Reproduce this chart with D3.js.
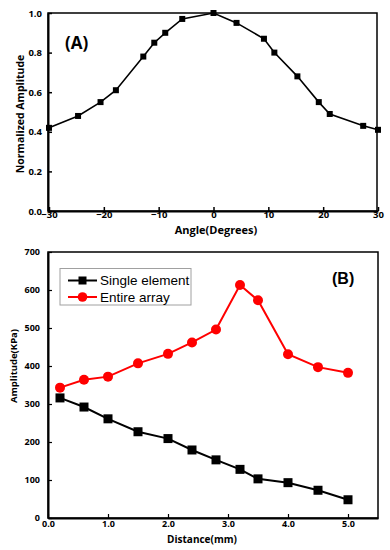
<!DOCTYPE html>
<html><head><meta charset="utf-8">
<script src="https://cdn.jsdelivr.net/npm/d3@7"></script>
<style>body{margin:0;background:#fff}svg{display:block}</style>
</head><body>
<svg id="c" width="390" height="550"></svg>
<script>
// Panel A data
const angles = [-30, -24.7, -20.6, -17.8, -12.8, -10.8, -8.8, -5.7, 0, 4.2, 9.2, 11.1, 15.3, 19.2, 21.2, 27.3, 30];
const normAmp = [0.42, 0.48, 0.55, 0.61, 0.78, 0.85, 0.90, 0.97, 1.0, 0.95, 0.87, 0.80, 0.68, 0.55, 0.49, 0.43, 0.41];
const angleTicks = [-30, -20, -10, 0, 10, 20, 30];
const normTicks = [0.0, 0.2, 0.4, 0.6, 0.8, 1.0];
// Panel B data
const distance = [0.2, 0.6, 1.0, 1.5, 2.0, 2.4, 2.8, 3.2, 3.5, 4.0, 4.5, 5.0];
const singleElement = [316, 292, 261, 227, 209, 179, 153, 128, 103, 93, 73, 48];
const entireArray = [343, 364, 372, 407, 432, 462, 496, 613, 573, 431, 397, 382];
const distTicks = [0.0, 1.0, 2.0, 3.0, 4.0, 5.0];
const ampTicks = [0, 100, 200, 300, 400, 500, 600, 700];
const seriesNames = ["Single element", "Entire array"];

const svg = d3.select("#c");
const axFont = "'Open Sans', 'DejaVu Sans', sans-serif";

// ---------- Panel A ----------
const A = {l: 48, r: 377, t: 13, b: 211};
const xA = d3.scaleLinear().domain([-30, 30]).range([A.l + 1, A.r + 1]);
const yA = d3.scaleLinear().domain([0, 1]).range([A.b, A.t]);
const gA = svg.append("g");
gA.append("rect").attr("x", A.l).attr("y", A.t).attr("width", A.r - A.l).attr("height", A.b - A.t)
  .attr("fill", "none").attr("stroke", "#000").attr("stroke-width", 1.5);
const axA = gA.append("g").attr("transform", `translate(0,${A.b})`)
  .call(d3.axisBottom(xA).tickValues(angleTicks).tickSizeInner(-4).tickSizeOuter(0).tickPadding(1).tickFormat(d3.format("d")));
const ayA = gA.append("g").attr("transform", `translate(${A.l},0)`)
  .call(d3.axisLeft(yA).tickValues(normTicks).tickSizeInner(-4).tickSizeOuter(0).tickPadding(6).tickFormat(d3.format(".1f")));
[axA, ayA].forEach(a => {
  a.select(".domain").attr("stroke-width", 2);
  a.selectAll(".tick line").attr("stroke-width", 1.5);
  a.selectAll("text").attr("font-family", axFont).attr("font-weight", "bold").attr("font-size", 9.5).attr("fill", "#000");
});
axA.selectAll(".tick text").attr("dy", "0.65em");
const lineA = d3.line().x((d, i) => xA(angles[i])).y(d => yA(d));
gA.append("path").datum(normAmp).attr("d", lineA).attr("fill", "none").attr("stroke", "#000").attr("stroke-width", 1.6);
gA.selectAll("rect.m").data(normAmp).join("rect").attr("class", "m")
  .attr("x", (d, i) => xA(angles[i]) - 3).attr("y", d => yA(d) - 3).attr("width", 6).attr("height", 6).attr("fill", "#000");
gA.append("text").attr("x", 20).attr("y", 114).attr("transform", "rotate(-90,20,114)")
  .attr("text-anchor", "middle").attr("dominant-baseline", "central")
  .attr("font-family", axFont).attr("font-weight", "bold").attr("font-size", 10.5).text("Normalized Amplitude");
gA.append("text").attr("x", 216).attr("y", 234).attr("text-anchor", "middle")
  .attr("font-family", axFont).attr("font-weight", "bold").attr("font-size", 11).text("Angle(Degrees)");
gA.append("text").attr("x", 65).attr("y", 49).attr("font-family", axFont).attr("font-weight", "bold").attr("font-size", 17).text("(A)");

// ---------- Panel B ----------
const B = {l: 48, r: 378, t: 252, b: 518};
const xB = d3.scaleLinear().domain([0, 5.5]).range([B.l, B.r]);
const yB = d3.scaleLinear().domain([0, 700]).range([B.b, B.t]);
const gB = svg.append("g");
gB.append("rect").attr("x", B.l).attr("y", B.t).attr("width", B.r - B.l).attr("height", B.b - B.t)
  .attr("fill", "none").attr("stroke", "#000").attr("stroke-width", 1.5);
const axB = gB.append("g").attr("transform", `translate(0,${B.b})`)
  .call(d3.axisBottom(xB).tickValues(distTicks).tickSizeInner(-4).tickSizeOuter(0).tickPadding(3).tickFormat(d3.format(".1f")));
const ayB = gB.append("g").attr("transform", `translate(${B.l},0)`)
  .call(d3.axisLeft(yB).tickValues(ampTicks).tickSizeInner(-4).tickSizeOuter(0).tickPadding(8).tickFormat(d3.format("d")));
[axB, ayB].forEach(a => {
  a.select(".domain").attr("stroke-width", 2);
  a.selectAll(".tick line").attr("stroke-width", 1.2);
  a.selectAll("text").attr("font-family", axFont).attr("font-weight", "bold").attr("font-size", 9).attr("fill", "#000");
});
axB.selectAll(".tick text").attr("dy", "0.7em");
const lineB = vals => d3.line().x((d, i) => xB(distance[i])).y(d => yB(d))(vals);
gB.append("path").attr("d", lineB(entireArray)).attr("fill", "none").attr("stroke", "#ff0000").attr("stroke-width", 2);
gB.append("path").attr("d", lineB(singleElement)).attr("fill", "none").attr("stroke", "#000").attr("stroke-width", 2);
gB.selectAll("circle.m").data(entireArray).join("circle").attr("class", "m")
  .attr("cx", (d, i) => xB(distance[i])).attr("cy", d => yB(d)).attr("r", 5).attr("fill", "#ff0000");
gB.selectAll("rect.m").data(singleElement).join("rect").attr("class", "m")
  .attr("x", (d, i) => xB(distance[i]) - 4.5).attr("y", d => yB(d) - 4.5).attr("width", 9).attr("height", 9).attr("fill", "#000");
gB.append("text").attr("x", 13).attr("y", 366).attr("transform", "rotate(-90,13,366)")
  .attr("text-anchor", "middle").attr("dominant-baseline", "central")
  .attr("font-family", axFont).attr("font-weight", "bold").attr("font-size", 9.5).text("Amplitude(KPa)");
gB.append("text").attr("x", 202).attr("y", 543).attr("text-anchor", "middle")
  .attr("font-family", axFont).attr("font-weight", "bold").attr("font-size", 10).text("Distance(mm)");
gB.append("text").attr("x", 332).attr("y", 284).attr("font-family", "'Liberation Sans', Arial, sans-serif")
  .attr("font-weight", "bold").attr("font-size", 16).text("(B)");
// legend
const leg = gB.append("g");
leg.append("rect").attr("x", 60).attr("y", 268.5).attr("width", 131).attr("height", 36.5)
  .attr("fill", "#fff").attr("stroke", "#a0a0a0").attr("stroke-width", 1);
const legColors = ["#000", "#ff0000"];
seriesNames.forEach((name, i) => {
  const cy = 280.5 + i * 16.5;
  leg.append("line").attr("x1", 68).attr("x2", 97).attr("y1", cy).attr("y2", cy).attr("stroke", legColors[i]).attr("stroke-width", 2);
  if (i === 0) leg.append("rect").attr("x", 78.5).attr("y", cy - 4).attr("width", 8).attr("height", 8).attr("fill", "#000");
  else leg.append("circle").attr("cx", 82.5).attr("cy", cy).attr("r", 4.8).attr("fill", "#ff0000");
  leg.append("text").attr("x", 100).attr("y", cy).attr("dominant-baseline", "central")
    .attr("font-family", "'Liberation Sans', Arial, sans-serif").attr("font-size", 13.5).text(name);
});
</script>
</body></html>
